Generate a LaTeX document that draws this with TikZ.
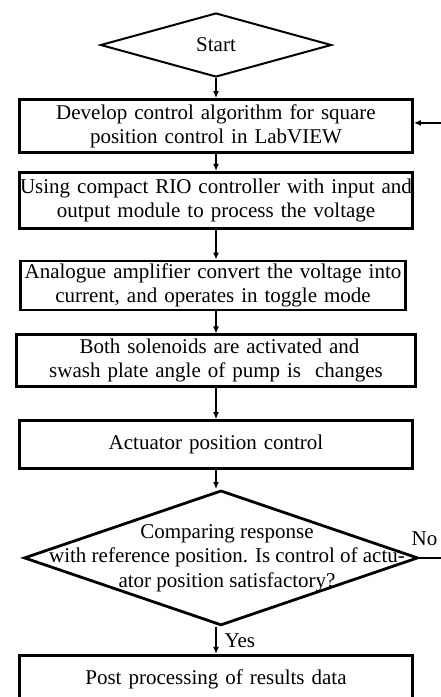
\documentclass[tikz,border=0pt]{standalone}
\usepackage{fontspec}
\setmainfont{Liberation Serif}
\usepackage{tikz}
\usetikzlibrary{shapes,arrows,arrows.meta,positioning}
\tikzstyle{decision} = [diamond, draw=black, line width=2.8pt, fill=none, text=black, aspect=3, inner sep=0pt]
\tikzstyle{box} = [rectangle, draw=black, line width=2.8pt, fill=none, text=black, align=center, font=\fontsize{21}{24}\selectfont, inner sep=0pt, text width=393pt]
\tikzstyle{textonly} = [draw=none, fill=none, text centered, font=\fontsize{21}{24}\selectfont, inner sep=0pt]
\tikzstyle{boxtextonly} = [draw=none, fill=none, align=center, font=\fontsize{21}{24.5}\selectfont, inner sep=0pt]
\tikzstyle{tedge}  = [draw, line width=1.2pt, >={Latex[length=7pt,width=6pt]}, ->]
\tikzstyle{tline}  = [draw, line width=1.2pt]

\begin{document}
\begin{tikzpicture}[auto]
\useasboundingbox (0pt,0pt) rectangle (441pt,-697pt);

% steps =============================

% start
\node[decision, line width=2pt, aspect=3.5, minimum width=231pt, minimum height=64pt, font=\fontsize{21}{24}\selectfont] (start) at (216pt,-45pt) {Start};

% process boxes
\node[box, minimum height=53pt, below=20pt of start] (algo) {Develop control algorithm for square\\ position control in LabVIEW};
\node[box, minimum height=56pt, below=17pt of algo] (crio) {Using compact RIO controller with input and\\ output module to process the voltage};
\node[box, text width=385pt, minimum height=49pt, below=30pt of crio, xshift=-3pt] (amp) {Analogue amplifier convert the voltage into\\ current, and operates in toggle mode};
\node[box, text width=399pt, minimum height=52pt, below=22pt of amp, xshift=3pt] (sol) {\ Both solenoids are activated and\\ swash plate angle of pump is\ \ changes};
\node[box, minimum height=48pt, below=31pt of sol] (act) {Actuator position control};

% decision
\node[decision, xshift=5pt, minimum width=394pt, minimum height=135pt, below=19pt of act] (cmp) {};
\node[boxtextonly, xshift=6pt] (cmptext) at (cmp) {Comparing response\\ with reference position. Is control of actu-\\ ator position satisfactory?};

% end
\node[box, minimum height=48pt, below=27pt of cmp.south -| act] (post) {Post processing of results data};

% loop back ends
\coordinate[right=30pt of cmp.east] (noend);
\coordinate[above right=3pt and 30pt of algo.east] (back);

% text only
\node[textonly, above right=12pt and -8pt of cmp.east] (no) {No};

% edges
\path[tedge] (start) -- (algo);
\path[tedge] (algo) -- (crio);
\path[tedge] (crio) -- (crio |- amp.north);
\path[tedge] (crio |- amp.south) -- (crio |- sol.north);
\path[tedge] (crio |- sol.south) -- (act);
\path[tedge] (act) -- (act |- cmp.north);
\path[tedge] (act |- cmp.south) -- node[textonly, right=8pt] (yes) {Yes} (post);

\path[tline] (cmp.east) -- (noend);
\path[tedge] (back) -- (back -| algo.east);

\end{tikzpicture}
\end{document}
